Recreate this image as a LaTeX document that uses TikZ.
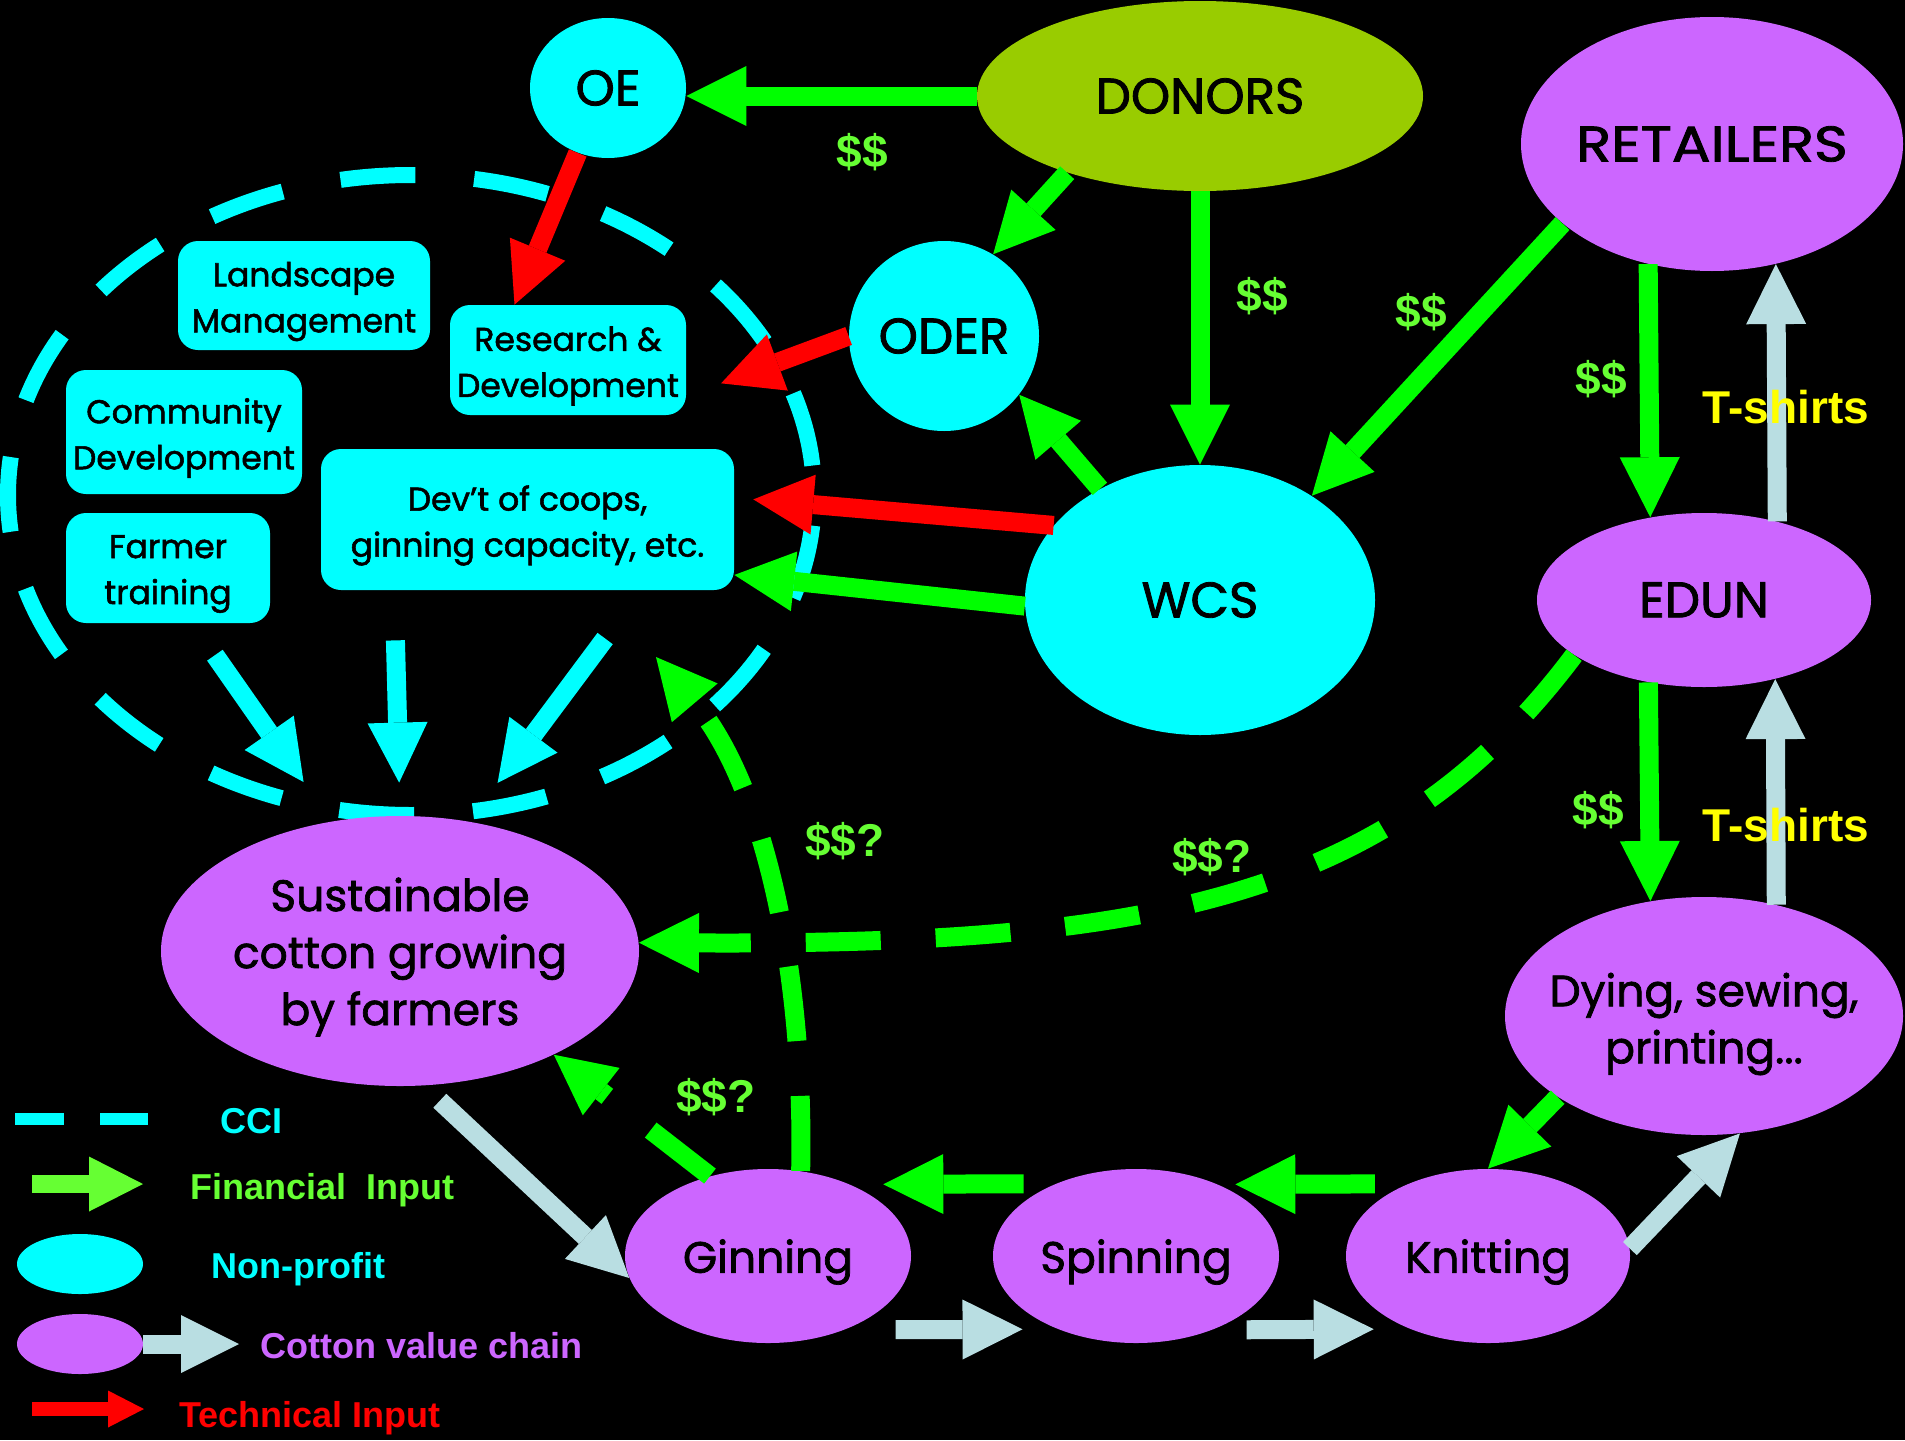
\documentclass[tikz,border=0pt]{standalone}
\usepackage{fontspec}
\usepackage{graphicx}
\setmainfont{Liberation Sans}
\newfontfamily\comic{Poppins}[FakeBold=1.6]
\usetikzlibrary{arrows.meta,shapes.geometric,calc}
\definecolor{cy}{HTML}{00FFFF}
\definecolor{pu}{HTML}{CC66FF}
\definecolor{ol}{HTML}{99CC00}
\definecolor{gr}{HTML}{00FF00}
\definecolor{lg}{HTML}{66FF33}
\definecolor{rd}{HTML}{FF0000}
\definecolor{pl}{HTML}{B9DEE2}
\definecolor{ye}{HTML}{FFFF00}
\begin{document}
\begin{tikzpicture}[x=0.5pt,y=-0.5pt,
  ell/.style={ellipse, inner sep=0pt},
  bigt/.style={font=\comic\fontsize{25}{30}\selectfont, text=black},
  midt/.style={font=\comic\fontsize{22}{28.5}\selectfont, text=black, align=center},
  bx/.style={rectangle, rounded corners=10pt, fill=cy, inner sep=0pt},
  bxt/.style={align=center, text=black, font=\comic\fontsize{16.5}{23}\selectfont, yshift=-3pt},
  blk/.style={line width=9.5pt, -{Triangle[length=30pt,width=30pt,line width=0pt]}},
  fin/.style={blk, draw=gr},
  tec/.style={blk, draw=rd},
  val/.style={blk, draw=pl},
  cya/.style={blk, draw=cy},
  dsh/.style={dash pattern=on 37.5pt off 27.5pt},
  lbl/.style={font=\bfseries\fontsize{23}{27}\selectfont, text=lg},
  tsh/.style={font=\bfseries\fontsize{23}{27}\selectfont, text=ye},
  leg/.style={font=\bfseries\fontsize{18}{22}\selectfont, anchor=base west, inner sep=0pt}
]
\useasboundingbox (0,0) rectangle (1905,1440);
\fill[black] (0,0) rectangle (1905,1440);

% CCI dashed ellipse
\node[ellipse, draw=cy, line width=8pt, inner sep=0pt, minimum width=403pt, minimum height=320pt,
      dash pattern=on 37.5pt off 29.5pt, dash phase=52.25pt] (cci) at (411,495) {};

% CCI boxes
\node[bx, minimum width=126pt, minimum height=54.5pt, label={[bxt]center:Landscape\\Management}] (land) at (304,295.5) {};
\node[bx, minimum width=118pt, minimum height=55pt, label={[bxt]center:Research \&\\Development}] (rnd) at (568,360) {};
\node[bx, minimum width=118pt, minimum height=62pt, label={[bxt]center:Community\\Development}] (comm) at (184,432) {};
\node[bx, minimum width=102pt, minimum height=55pt, label={[bxt]center:Farmer\\training}] (farm) at (168,568) {};
\node[bx, minimum width=206.5pt, minimum height=70.5pt, label={[bxt]center:Dev’t of coops,\\ginning capacity, etc.}] (coops) at (527.5,519.5) {};

% ellipse nodes
\node[ell, fill=cy, minimum width=78pt, minimum height=70pt, label={[bigt]center:OE}] (oe) at (608,88) {};
\node[ell, fill=ol, minimum width=223pt, minimum height=95pt, label={[bigt]center:DONORS}] (donors) at (1200,96) {};
\node[ell, fill=pu, minimum width=191pt, minimum height=127pt, label={[bigt]center:\scalebox{1.15}[1]{RETAILERS}}] (retailers) at (1712,144) {};
\node[ell, fill=cy, minimum width=95pt, minimum height=95pt, label={[bigt]center:ODER}] (oder) at (944,336) {};
\node[ell, fill=cy, minimum width=175pt, minimum height=135pt, label={[bigt]center:WCS}] (wcs) at (1200,600) {};
\node[ell, fill=pu, minimum width=167pt, minimum height=87pt, label={[bigt]center:EDUN}] (edun) at (1704,600) {};
\node[ell, fill=pu, minimum width=199pt, minimum height=119pt, label={[midt, yshift=-4pt]center:Dying, sewing,\\printing...}] (dying) at (1704,1016) {};
\node[ell, fill=pu, minimum width=142pt, minimum height=87pt, label={[midt, yshift=-3pt]center:Knitting}] (knit) at (1488,1256) {};
\node[ell, fill=pu, minimum width=143pt, minimum height=87pt, label={[midt, yshift=-3pt]center:Spinning}] (spin) at (1136,1256) {};
\node[ell, fill=pu, minimum width=143pt, minimum height=87pt, label={[midt, yshift=-3pt]center:Ginning}] (gin) at (768,1256) {};
\node[ell, fill=pu, minimum width=239pt, minimum height=135pt, label={[midt, yshift=-3pt]center:Sustainable\\cotton growing\\by farmers}] (sust) at (400,951) {};

\coordinate (ktip) at (656,657);

% financial arrows
\draw[fin] (donors.west) -- (donors.west -| oe.east);
\draw[fin] (donors.210) -- (oder.59);
\draw[fin] (donors.south) -- (wcs.north);
\draw[fin] (retailers.208.6) -- (wcs.43);
\draw[fin] (retailers.242.3) -- (edun.123.8);
\draw[fin] (edun.236.2) -- (dying.115.7);
\draw[fin] (dying.209.6) -- (knit.north);
\draw[fin, shorten <=16.5pt, shorten >=8.5pt] (knit.138) -- (spin.41.8);
\draw[fin, shorten <=16pt, shorten >=16.5pt] (spin.138.2) -- (gin.41.8);
\draw[fin] (wcs.132.4) -- (oder.322.1);
\draw[fin] (wcs.182) -- (coops.345.2);
\draw[fin, dsh] (gin.126.7) -- (sust.326.8);
\draw[fin, dsh] (gin.69.4) .. controls (805,960) and (760,780) .. (ktip);
\draw[fin, dsh] (edun.203.5) .. controls (1390,900) and (1150,945) .. (sust.2);

% technical arrows
\draw[tec] (oe.245.4) -- (rnd.134);
\draw[tec, shorten >=18.5pt] (oder.west) -- (rnd.343.3);
\draw[tec, shorten >=9.5pt] (wcs.153.6) -- (coops.6.5);

% CCI arrows
\draw[cya, shorten <=19.4pt, shorten >=24pt] (farm.294.4) -- (sust.118.8);
\draw[cya, shorten <=25pt, shorten >=16.5pt] (coops.208.9) -- (sust.north);
\draw[cya, shorten <=30pt, shorten >=24pt] (coops.328.4) -- (sust.62.4);

% value chain arrows
\draw[val, shorten <=11pt] (sust.-80) -- (gin.189);
\draw[val, shorten <=25.5pt, shorten >=17.5pt] (gin.316.8) -- (spin.223.2);
\draw[val, shorten <=17pt, shorten >=18pt] (spin.316.8) -- (knit.223.4);
\draw[val] (knit.3) -- (dying.287.4);
\draw[val] (edun.47.5) -- (retailers.298.1);
\draw[val] (dying.57) -- (edun.312.5);

% labels
\node[lbl] (m1) at (862,152) {\$\$};
\node[lbl] (m2) at (1262,296) {\$\$};
\node[lbl] (m3) at (1421,312) {\$\$};
\node[lbl] (m4) at (1601,379) {\$\$};
\node[lbl] (m5) at (1598,810) {\$\$};
\node[lbl] (m6) at (845,841) {\$\$?};
\node[lbl] (m7) at (1212,857) {\$\$?};
\node[lbl] (m8) at (716,1097) {\$\$?};
\node[tsh] (t1) at (1786,407) {T-shirts};
\node[tsh] (t2) at (1786,825) {T-shirts};

% legend
\coordinate (l1a) at (15,1119); \coordinate (l1b) at (148,1119);
\draw[draw=cy, line width=6pt, dash pattern=on 24.5pt off 18pt] (l1a) -- (l1b);
\coordinate (l2a) at (32,1184); \coordinate (l2b) at (143,1184);
\draw[draw=lg, line width=9pt, -{Triangle[length=27pt,width=27.5pt,line width=0pt]}] (l2a) -- (l2b);
\node[ell, fill=cy, minimum width=63pt, minimum height=30pt] (lnp) at (80,1264) {};
\node[ell, fill=pu, minimum width=63pt, minimum height=30pt] (lcv) at (80,1344) {};
\coordinate (l4a) at (143,1344); \coordinate (l4b) at (239,1344);
\draw[draw=pl, line width=9.5pt, -{Triangle[length=29pt,width=29pt,line width=0pt]}] (l4a) -- (l4b);
\coordinate (l5a) at (32,1409); \coordinate (l5b) at (144,1409);
\draw[draw=rd, line width=7pt, -{Triangle[length=18pt,width=18.5pt,line width=0pt]}] (l5a) -- (l5b);
\node[leg, text=cy] (tcci) at (220,1133) {CCI};
\node[leg, text=lg] (tfin) at (190,1199) {Financial~~Input};
\node[leg, text=cy] (tnp) at (211,1278) {Non-profit};
\node[leg, text=pu] (tcv) at (260,1358) {Cotton value chain};
\node[leg, text=rd] (ttec) at (179,1427) {Technical Input};
\end{tikzpicture}
\end{document}
